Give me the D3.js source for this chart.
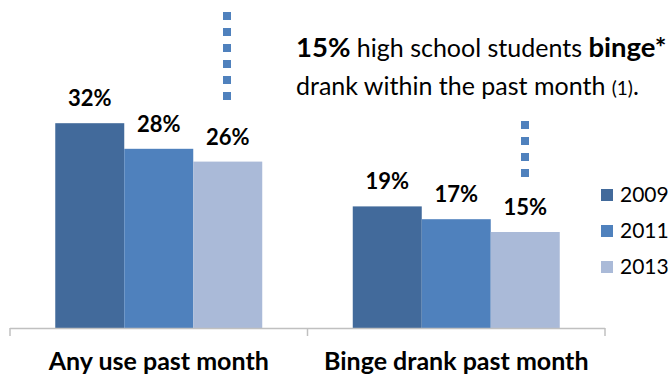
<!DOCTYPE html>
<html>
<head>
<meta charset="utf-8">
<script src="https://cdn.jsdelivr.net/npm/d3@7"></script>
<style>
  body { margin: 0; background: #fff; }
  svg { display: block; font-family: Lato, "Open Sans", sans-serif; }
</style>
</head>
<body>
<div id="chart"></div>
<script>
// data
var categories = ["Any use past month", "Binge drank past month"];
var years = ["2009", "2011", "2013"];
var values2009 = [32, 19];
var values2011 = [28, 17];
var values2013 = [26, 15];

var colors = ["#426a9b", "#4f81bd", "#aabad8"];

var width = 672, height = 376;
var baseY = 328;

var svg = d3.select("#chart")
  .append("svg")
  .attr("width", width)
  .attr("height", height);

var rows = categories.map(function(c, i) {
  return { cat: c, vals: [values2009[i], values2011[i], values2013[i]] };
});

var xScale = d3.scaleBand().domain(categories).range([10, 605]);
var xInner = d3.scaleBand().domain(years)
  .range([0, xScale.bandwidth()])
  .paddingInner(0).paddingOuter(0.656);
var yScale = d3.scaleLinear().domain([0, 40]).range([baseY, baseY - 256]);
var colorScale = d3.scaleOrdinal().domain(years).range(colors);

// bars
var groups = svg.selectAll(".grp")
  .data(rows)
  .enter().append("g")
  .attr("class", "grp")
  .attr("transform", function(d) { return "translate(" + xScale(d.cat) + ",0)"; });

groups.selectAll("rect")
  .data(function(d) { return d.vals.map(function(v, j) { return { year: years[j], v: v }; }); })
  .enter().append("rect")
  .attr("x", function(d) { return xInner(d.year); })
  .attr("y", function(d) { return yScale(d.v); })
  .attr("width", xInner.bandwidth())
  .attr("height", function(d) { return baseY - yScale(d.v); })
  .attr("fill", function(d) { return colorScale(d.year); });

groups.selectAll(".val")
  .data(function(d) { return d.vals.map(function(v, j) { return { year: years[j], v: v }; }); })
  .enter().append("text")
  .attr("class", "val")
  .attr("x", function(d) { return xInner(d.year) + xInner.bandwidth() / 2; })
  .attr("y", function(d) { return yScale(d.v) - 17; })
  .attr("text-anchor", "middle")
  .attr("font-size", 22)
  .attr("font-weight", "bold")
  .attr("fill", "#000")
  .text(function(d) { return d.v + "%"; });

// category axis
var edges = [xScale.range()[0]].concat(categories.map(function(c) { return xScale(c) + xScale.bandwidth(); }));
svg.append("line")
  .attr("x1", xScale.range()[0]).attr("x2", xScale.range()[1])
  .attr("y1", baseY + 0.5).attr("y2", baseY + 0.5)
  .attr("stroke", "#c0c0c0").attr("stroke-width", 1.5);
svg.selectAll(".tick")
  .data(edges)
  .enter().append("line")
  .attr("class", "tick")
  .attr("x1", function(d) { return d; }).attr("x2", function(d) { return d; })
  .attr("y1", baseY).attr("y2", baseY + 8)
  .attr("stroke", "#c0c0c0").attr("stroke-width", 1.5);

svg.selectAll(".cat")
  .data(categories)
  .enter().append("text")
  .attr("class", "cat")
  .attr("x", function(d) { return xScale(d) + xScale.bandwidth() / 2; })
  .attr("y", 370)
  .attr("text-anchor", "middle")
  .attr("font-size", 25)
  .attr("font-weight", "bold")
  .text(function(d) { return d; });

// legend
var legend = svg.selectAll(".leg")
  .data(years)
  .enter().append("g")
  .attr("class", "leg")
  .attr("transform", function(d, i) { return "translate(601," + (189 + i * 36) + ")"; });
legend.append("rect")
  .attr("width", 12).attr("height", 12)
  .attr("fill", function(d) { return colorScale(d); });
legend.append("text")
  .attr("x", 19).attr("y", 13)
  .attr("font-size", 21)
  .text(function(d) { return d; });

// dotted callout lines
svg.append("line")
  .attr("x1", 227).attr("x2", 227).attr("y1", 12).attr("y2", 100)
  .attr("stroke", "#4f81bd").attr("stroke-width", 8)
  .attr("stroke-dasharray", "8 8");
svg.append("line")
  .attr("x1", 525).attr("x2", 525).attr("y1", 121).attr("y2", 177)
  .attr("stroke", "#4f81bd").attr("stroke-width", 8)
  .attr("stroke-dasharray", "8 8");

// annotation
var t1 = svg.append("text").attr("x", 296).attr("y", 57).attr("fill", "#000");
t1.append("tspan").attr("font-weight", "bold").attr("font-size", 27.5).text("15%");
t1.append("tspan").attr("font-size", 25).text(" high school students ");
t1.append("tspan").attr("font-weight", "bold").attr("font-size", 27.5).text("binge*");

var t2 = svg.append("text").attr("x", 296).attr("y", 95).attr("fill", "#000");
t2.append("tspan").attr("font-size", 25).text("drank within the past month ");
t2.append("tspan").attr("font-size", 19).text("(1)");
t2.append("tspan").attr("font-size", 25).text(".");
</script>
</body>
</html>
